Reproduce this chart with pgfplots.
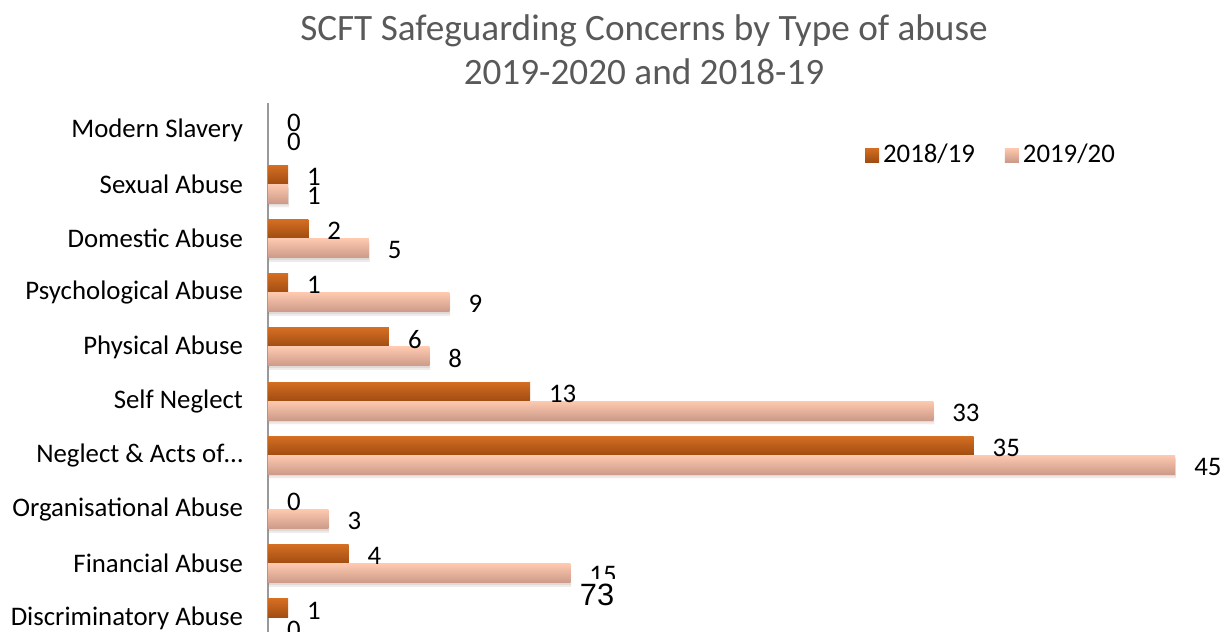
\documentclass[border=0pt]{standalone}
\usepackage{fontspec}
\setmainfont{Carlito}
\newfontfamily\arialfont{Liberation Sans}
\usepackage{pgfplots}
\usepackage{pgfplotstable}
\pgfplotsset{compat=1.18}

\definecolor{darkTop}{HTML}{D46E22}
\definecolor{darkBot}{HTML}{A04C12}
\definecolor{lightTop}{HTML}{FEC9AF}
\definecolor{lightBot}{HTML}{CC9A89}
\definecolor{titlegray}{HTML}{595959}

% 0 = Discriminatory (bottom) ... 9 = Modern Slavery (top)
\pgfplotstableread{
idx y1819 y1920
0 1 0
1 4 15
2 0 3
3 35 45
4 13 33
5 6 8
6 1 9
7 2 5
8 1 1
9 0 0
}\abusedata

\begin{document}
\begin{tikzpicture}
\useasboundingbox (0,0) rectangle (613.5pt,-316pt);
\clip (0,0) rectangle (613.5pt,-316pt);
\node[font=\fontsize{18.6}{22}\selectfont, text=titlegray, align=center]
  at (322pt,-25pt) {SCFT Safeguarding Concerns by Type of abuse\\2019-2020 and 2018-19};
\begin{axis}[
  at={(134pt,-51.5pt)}, anchor=north west,
  scale only axis, width=504pt, height=271pt,
  xmin=0, xmax=50, ymin=-0.5, ymax=9.5,
  axis x line=none,
  axis y line*=left,
  y axis line style={draw=gray!80, line width=0.8pt, -},
  ytick={0,...,9},
  yticklabels={Discriminatory Abuse, Financial Abuse, Organisational Abuse,
    Neglect \& Acts of…, Self Neglect, Physical Abuse, Psychological Abuse,
    Domestic Abuse, Sexual Abuse, Modern Slavery},
  major tick length=0pt,
  yticklabel style={font=\fontsize{13.4}{15}\selectfont, xshift=-9pt},
  xbar, bar width=9.5pt,
  /pgf/number format/assume math mode=true,
  legend columns=2,
  legend style={draw=none, fill=none, at={(0.592,0.904)}, anchor=west, inner sep=0pt,
    font=\fontsize{13.4}{15}\selectfont,
    /tikz/every even column/.append style={column sep=13pt}},
  legend image code/.code={\path[#1] (0pt,-3.5pt) rectangle (7pt,3.5pt);},
  shadowed/.style={preaction={fill=black, opacity=0.06,
      transform canvas={xshift=0.5pt, yshift=-2pt}},
    preaction={fill=black, opacity=0.06,
      transform canvas={xshift=0.2pt, yshift=-1pt}}},
  lbl/.style={nodes near coords,
    nodes near coords style={font=\fontsize{13.4}{15}\selectfont, anchor=west, xshift=6pt, yshift=-1pt}},
]
% one plot per bar so that each bar gets its own gradient
\pgfplotsinvokeforeach{0,...,9}{
  \addplot[draw=none, top color=darkTop, bottom color=darkBot, bar shift=4.75pt,
    forget plot, restrict y to domain=#1:#1, restrict x to domain=0.5:100]
    table[x=y1819, y=idx] {\abusedata};
  \addplot[draw=none, top color=lightTop, bottom color=lightBot, bar shift=-4.75pt,
    shadowed, forget plot, restrict y to domain=#1:#1, restrict x to domain=0.5:100]
    table[x=y1920, y=idx] {\abusedata};
}
% value labels for every bar, zeros included
\addplot[draw=none, fill=none, bar shift=4.75pt, forget plot, lbl]
  table[x=y1819, y=idx] {\abusedata};
\addplot[draw=none, fill=none, bar shift=-4.75pt, forget plot, lbl]
  table[x=y1920, y=idx] {\abusedata};
\addlegendimage{draw=none, top color=darkTop, bottom color=darkBot}
\addlegendentry{2018/19}
\addlegendimage{draw=none, top color=lightTop, bottom color=lightBot}
\addlegendentry{2019/20}
\end{axis}
\node[font=\arialfont\fontsize{15.4}{18}\selectfont, fill=white, inner xsep=1pt, inner ysep=2.6pt]
  at (298.5pt,-297.5pt) {73};
\end{tikzpicture}
\end{document}
